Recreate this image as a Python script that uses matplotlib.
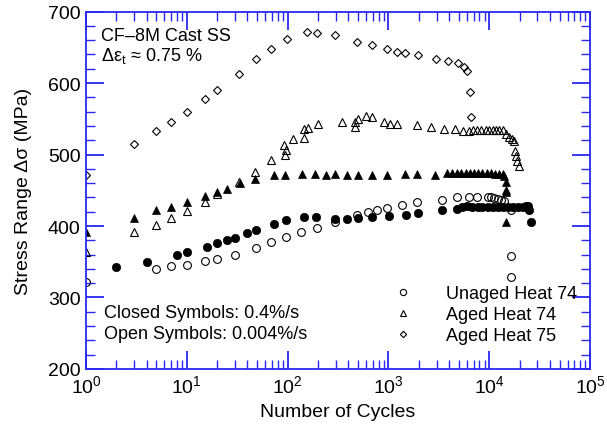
import matplotlib
matplotlib.use("Agg")
import matplotlib.pyplot as plt
from matplotlib.lines import Line2D
from matplotlib.ticker import LogLocator, MultipleLocator, FixedLocator, FixedFormatter

plt.rcParams['font.family'] = ['Liberation Sans', 'DejaVu Sans']
plt.rcParams['mathtext.fontset'] = 'custom'
plt.rcParams['mathtext.rm'] = 'Liberation Sans'
plt.rcParams['mathtext.it'] = 'Liberation Sans:italic'

# Unaged Heat 74, 0.4%/s (closed circles)
unaged_fast_n = [2, 4, 8, 10, 16, 20, 25, 30, 40, 49, 73, 97, 145, 193, 292, 390, 498, 686,
                 1020, 1505, 1983, 3436, 4840, 5430, 6080, 6820, 7660, 8570, 9620, 10790,
                 12100, 13550, 15200, 17060, 19100, 21430, 23100, 24400, 24900, 25700]
unaged_fast_s = [343, 350, 359, 364, 371, 376, 380, 383, 390, 394, 403, 408, 412, 412, 410, 410, 411, 412,
                 414, 415, 418, 422, 424, 426, 428, 427, 427, 427, 427, 427,
                 427, 427, 427, 427, 427, 427, 428, 428, 423, 405]

# Unaged Heat 74, 0.004%/s (open circles)
unaged_slow_n = [1, 5, 7, 10, 15, 20, 30, 49, 69, 97, 137, 196, 294, 490, 626, 776, 975, 1350,
                 1937, 3400, 4840, 6300, 7650, 9620, 10400, 11200, 12100, 13000, 14100,
                 16400, 16400, 16400]
unaged_slow_s = [321, 340, 344, 346, 351, 354, 360, 369, 377, 384, 391, 397, 405, 415, 419, 422, 425, 429,
                 433, 437, 440, 441, 441, 441, 440, 439, 438, 437, 435,
                 423, 358, 329]

# Aged Heat 74, 0.4%/s (closed triangles)
aged74_fast_n = [1, 3, 5, 7, 10, 15, 20, 25, 34, 48, 73, 95, 139, 186, 243, 294, 390, 498, 692, 975,
                 1472, 1937, 2925, 3850, 4320, 4840, 5310, 5850, 6460, 7080,
                 7760, 8570, 9460, 10370, 11380, 12530, 13550, 14060, 14620, 14800, 14800, 14800]
aged74_fast_s = [392, 411, 422, 426, 434, 442, 447, 452, 460, 466, 472, 472, 473, 473, 472, 473, 472, 472, 472, 472,
                 473, 473, 472, 474, 474, 474, 474, 474, 474, 474,
                 474, 474, 474, 474, 473, 473, 473, 470, 461, 451, 447, 405]

# Aged Heat 74, 0.004%/s (open triangles)
aged74_slow_n = [1, 3, 5, 7, 10, 15, 20, 33, 47, 69, 93, 97, 95, 113, 145, 145, 158, 198, 343, 465,
                 470, 502, 593, 692, 911, 1045, 1205, 1937, 2668, 3596,
                 4585, 5510, 6300, 6980, 7650, 8380, 9250, 9980, 10800, 11600,
                 12500, 13600, 14600, 15800, 17000, 17700, 18200, 18600, 19000, 19700]
aged74_slow_s = [364, 391, 401, 411, 421, 433, 445, 461, 476, 493, 513, 506, 500, 521, 535, 523, 537, 542, 546, 539,
                 546, 550, 554, 552, 546, 542, 542, 541, 539, 535,
                 535, 533, 533, 534, 534, 534, 534, 534, 534, 534,
                 534, 534, 528, 525, 522, 519, 505, 498, 491, 484]

# Aged Heat 75, 0.004%/s (open diamonds)
aged75_slow_n = [1, 3, 5, 7, 10, 15, 20, 33, 49, 69, 98, 157, 196, 295, 487, 681, 966, 1206, 1459,
                 1950, 2944, 3900, 4870, 5630, 6090, 6500, 6600]
aged75_slow_s = [472, 514, 533, 545, 559, 577, 590, 613, 633, 648, 662, 672, 670, 667, 657, 653, 647, 644, 642,
                 639, 634, 631, 628, 622, 617, 587, 553]

blue = '#2828f0'

fig = plt.figure(figsize=(6.07, 4.27), dpi=100)
ax = fig.add_axes([0.1417, 0.1335, 0.8303, 0.8372])

ax.plot(unaged_slow_n, unaged_slow_s, 'o', ms=5.6, mfc='none', mec='black', mew=0.8)
ax.plot(aged74_slow_n, aged74_slow_s, '^', ms=6.2, mfc='none', mec='black', mew=0.8)
ax.plot(aged75_slow_n, aged75_slow_s, 'D', ms=3.9, mfc='none', mec='black', mew=0.8)
ax.plot(unaged_fast_n, unaged_fast_s, 'o', ms=6.0, mfc='black', mec='black', mew=0.5)
ax.plot(aged74_fast_n, aged74_fast_s, '^', ms=6.2, mfc='black', mec='black', mew=0.5)

ax.set_xscale('log')
ax.set_xlim(1, 1e5)
ax.set_ylim(200, 700)

ax.xaxis.set_major_locator(FixedLocator([1, 10, 100, 1e3, 1e4, 1e5]))
ax.xaxis.set_major_formatter(FixedFormatter(['$10^0$', '$10^1$', '$10^2$', '$10^3$', '$10^4$', '$10^5$']))
ax.xaxis.set_minor_locator(LogLocator(base=10, subs=range(2, 10), numticks=20))
ax.yaxis.set_major_locator(MultipleLocator(100))
ax.yaxis.set_minor_locator(MultipleLocator(20))

for s in ax.spines.values():
    s.set_color(blue)
    s.set_linewidth(1.3)
ax.tick_params(which='both', direction='in', top=True, right=True, color=blue, labelsize=14, pad=4)
ax.tick_params(which='major', length=13, width=1.3)
ax.tick_params(which='minor', length=6.5, width=1.0)

ax.set_xlabel('Number of Cycles', fontsize=14, labelpad=5)
ax.set_ylabel('Stress Range Δσ (MPa)', fontsize=14, labelpad=11)

ax.text(0.029, 0.932, 'CF–8M Cast SS', transform=ax.transAxes, fontsize=13, va='center')
ax.text(0.029, 0.878, 'Δε$_\\mathregular{t}$ ≈ 0.75 %', transform=ax.transAxes, fontsize=13, va='center')
ax.text(0.036, 0.158, 'Closed Symbols: 0.4%/s', transform=ax.transAxes, fontsize=13, va='center')
ax.text(0.036, 0.098, 'Open Symbols: 0.004%/s', transform=ax.transAxes, fontsize=13, va='center')

handles = [
    Line2D([], [], ls='none', marker='o', ms=4.5, mfc='none', mec='black', mew=0.8),
    Line2D([], [], ls='none', marker='^', ms=4.5, mfc='none', mec='black', mew=0.8),
    Line2D([], [], ls='none', marker='D', ms=3.2, mfc='none', mec='black', mew=0.8),
]
ax.legend(handles, ['Unaged Heat 74', 'Aged Heat 74', 'Aged Heat 75'],
          loc='lower right', bbox_to_anchor=(0.993, 0.045), frameon=False, fontsize=13,
          handlelength=1, handletextpad=1.9, labelspacing=0.22, borderpad=0)

fig.savefig('out.png', dpi=100)
